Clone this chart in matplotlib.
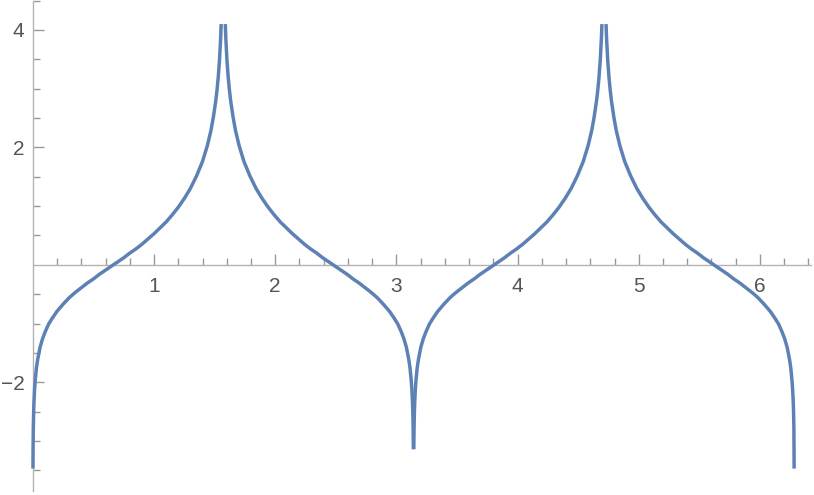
import numpy as np
import matplotlib
matplotlib.use('Agg')
import matplotlib.pyplot as plt
from matplotlib.ticker import FixedLocator

# values, one list pair per branch between the poles
x1 = [0.001, 0.002, 0.004, 0.007, 0.01, 0.015, 0.02, 0.03, 0.04, 0.06, 0.08, 0.10, 0.13, 0.16,
      0.20, 0.25, 0.30, 0.35, 0.40, 0.45, 0.50, 0.55, 0.60, 0.65, 0.70, 0.75, 0.80, 0.85, 0.90,
      0.95, 1.00, 1.05, 1.10, 1.15, 1.20, 1.25, 1.30, 1.35, 1.40, 1.44, 1.47, 1.49, 1.51, 1.52,
      1.53, 1.54, 1.55, 1.554]
y1 = [-3.47, -3.11, -2.76, -2.48, -2.30, -2.10, -1.96, -1.75, -1.61, -1.40, -1.26, -1.15, -1.01, -0.91,
      -0.79, -0.67, -0.56, -0.47, -0.39, -0.31, -0.24, -0.16, -0.09, -0.02, 0.05, 0.12, 0.20, 0.27, 0.35,
      0.44, 0.53, 0.63, 0.73, 0.85, 0.98, 1.13, 1.30, 1.51, 1.76, 2.03, 2.29, 2.52, 2.80, 2.98,
      3.20, 3.48, 3.87, 4.10]

x2 = [1.588, 1.592, 1.602, 1.612, 1.622, 1.632, 1.652, 1.672, 1.702, 1.742, 1.792, 1.842, 1.892,
      1.942, 1.992, 2.042, 2.092, 2.142, 2.192, 2.242, 2.292, 2.342, 2.392, 2.442, 2.492, 2.542,
      2.592, 2.642, 2.692, 2.742, 2.792, 2.842, 2.892, 2.942, 2.982, 3.012, 3.042, 3.062, 3.082,
      3.102, 3.112, 3.122, 3.127, 3.132, 3.135, 3.138, 3.140]
y2 = [4.10, 3.87, 3.48, 3.20, 2.98, 2.80, 2.52, 2.29, 2.03, 1.76, 1.51, 1.30, 1.13,
      0.98, 0.85, 0.73, 0.63, 0.53, 0.44, 0.35, 0.27, 0.20, 0.12, 0.05, -0.02, -0.09,
      -0.16, -0.24, -0.31, -0.39, -0.47, -0.56, -0.67, -0.79, -0.91, -1.01, -1.15, -1.26, -1.40,
      -1.61, -1.75, -1.96, -2.10, -2.30, -2.48, -2.76, -3.14]

x3 = [3.1435, 3.146, 3.149, 3.152, 3.157, 3.162, 3.172, 3.182, 3.202, 3.222, 3.242, 3.272, 3.302,
      3.342, 3.392, 3.442, 3.492, 3.542, 3.592, 3.642, 3.692, 3.742, 3.792, 3.842, 3.892, 3.942,
      3.992, 4.042, 4.092, 4.142, 4.192, 4.242, 4.292, 4.342, 4.392, 4.442, 4.492, 4.542, 4.582,
      4.612, 4.632, 4.652, 4.662, 4.672, 4.682, 4.692, 4.696]
y3 = [-3.14, -2.76, -2.48, -2.30, -2.10, -1.96, -1.75, -1.61, -1.40, -1.26, -1.15, -1.01, -0.91,
      -0.79, -0.67, -0.56, -0.47, -0.39, -0.31, -0.24, -0.16, -0.09, -0.02, 0.05, 0.12, 0.20,
      0.27, 0.35, 0.44, 0.53, 0.63, 0.73, 0.85, 0.98, 1.13, 1.30, 1.51, 1.76, 2.03,
      2.29, 2.52, 2.80, 2.98, 3.20, 3.48, 3.87, 4.10]

x4 = [4.730, 4.734, 4.744, 4.754, 4.764, 4.774, 4.794, 4.814, 4.844, 4.884, 4.934, 4.984, 5.034,
      5.084, 5.134, 5.184, 5.234, 5.284, 5.334, 5.384, 5.434, 5.484, 5.534, 5.584, 5.634, 5.684,
      5.734, 5.784, 5.834, 5.884, 5.934, 5.984, 6.034, 6.084, 6.124, 6.154, 6.184, 6.204, 6.224,
      6.244, 6.254, 6.264, 6.269, 6.274, 6.277, 6.280, 6.281, 6.282]
y4 = [4.10, 3.87, 3.48, 3.20, 2.98, 2.80, 2.52, 2.29, 2.03, 1.76, 1.51, 1.30, 1.13,
      0.98, 0.85, 0.73, 0.63, 0.53, 0.44, 0.35, 0.27, 0.20, 0.12, 0.05, -0.02, -0.09,
      -0.16, -0.24, -0.31, -0.39, -0.47, -0.56, -0.67, -0.79, -0.91, -1.01, -1.15, -1.26, -1.40,
      -1.61, -1.75, -1.96, -2.10, -2.30, -2.48, -2.76, -3.11, -3.47]

xticks = [1, 2, 3, 4, 5, 6]
yticks = [-2, 2, 4]

LINE = '#5E81B5'
AX = '#b3b3b3'
TXT = '#555555'

plt.rcParams['font.family'] = ['Liberation Sans', 'DejaVu Sans']

fig = plt.figure(figsize=(8.14, 4.95), dpi=100)
ax = fig.add_axes([0, 0, 1, 1])

for xs, ys in [(x1, y1), (x2, y2), (x3, y3), (x4, y4)]:
    ax.plot(xs, ys, color=LINE, lw=2.5, solid_capstyle='butt', solid_joinstyle='round', zorder=3)

ax.set_xlim(-0.271, 6.446)
ax.set_ylim(-3.92, 4.51)

for s in ['top', 'right']:
    ax.spines[s].set_visible(False)
ax.spines['left'].set_position(('data', 0))
ax.spines['bottom'].set_position(('data', 0))
ax.spines['left'].set_bounds(-3.86, 4.49)
ax.spines['bottom'].set_bounds(0, 6.42)
for s in ['left', 'bottom']:
    ax.spines[s].set_color(AX)
    ax.spines[s].set_linewidth(1.0)

ax.xaxis.set_major_locator(FixedLocator(xticks))
ax.yaxis.set_major_locator(FixedLocator(yticks))
ax.xaxis.set_minor_locator(FixedLocator(np.arange(0.2, 6.41, 0.2)))
ax.yaxis.set_minor_locator(FixedLocator([-3.5, -3, -2.5, -1.5, -1, -0.5, 0.5, 1, 1.5, 2.5, 3, 3.5, 4.5]))

ax.tick_params(which='both', direction='in', color='#999999', width=1.0, labelcolor=TXT,
               labelsize=15)
ax.tick_params(axis='x', which='major', length=8, pad=9)
ax.tick_params(axis='x', which='minor', length=5)
ax.tick_params(axis='y', which='major', length=8, pad=6)
ax.tick_params(axis='y', which='minor', length=5)

fig.savefig('out.png', dpi=100)
